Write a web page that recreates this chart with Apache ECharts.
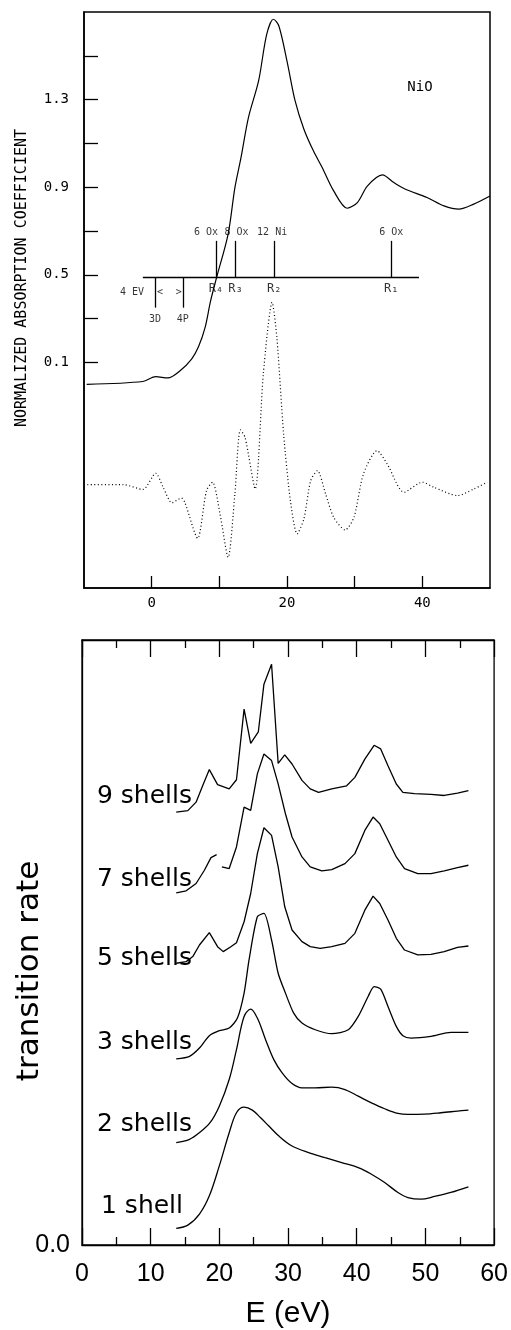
<!DOCTYPE html>
<html><head><meta charset="utf-8">
<script src="https://cdn.jsdelivr.net/npm/echarts@6/dist/echarts.min.js"></script>
<style>html,body{margin:0;padding:0;background:#fff}#c{width:511px;height:1330px}</style>
</head><body><div id="c"></div><script>
// ---------- Top panel (NiO absorption) ----------
const topSolidE = [-9.6,-1.3,0.6,2.4,4.2,5.9,6.9,7.9,8.7,9.6,11.3,12.3,13.2,14.3,15.8,17.0,18.0,18.8,20.0,21.2,22.5,23.9,25.2,26.9,28.9,30.4,31.9,34.1,35.8,37.5,40.7,43.2,45.4,47.6,50.0];
const topSolid  = [0.0,0.013,0.035,0.029,0.062,0.115,0.17,0.26,0.38,0.488,0.686,0.898,1.035,1.218,1.385,1.598,1.667,1.636,1.476,1.294,1.165,1.066,0.99,0.883,0.804,0.83,0.906,0.956,0.921,0.891,0.853,0.815,0.8,0.823,0.86];
const topDotE = [-9.5,-4.2,-1.3,0.6,1.7,3.0,4.4,4.9,6.8,8.1,9.0,10.1,11.3,12.3,13.1,13.8,15.3,16.5,17.8,18.5,19.5,20.5,21.5,22.5,23.5,24.5,25.7,26.9,28.6,29.9,31.3,33.3,34.8,37.3,40.0,41.7,45.2,47.6,49.6];
const topDot  = [-0.458,-0.458,-0.48,-0.406,-0.47,-0.541,-0.519,-0.539,-0.703,-0.485,-0.447,-0.592,-0.79,-0.5,-0.208,-0.242,-0.478,0.047,0.374,0.214,-0.227,-0.531,-0.683,-0.614,-0.44,-0.394,-0.5,-0.607,-0.665,-0.607,-0.409,-0.303,-0.363,-0.493,-0.447,-0.47,-0.508,-0.478,-0.447];
const topXTicks = [0,10,20,30,40];
const topXLabels = [0,20,40];
const topYTicks = [0.1,0.3,0.5,0.7,0.9,1.1,1.3,1.5];
const topYLabels = [0.1,0.5,0.9,1.3];
// shell annotations
const shellE = [9.5,12.4,18.1,35.4];
const shellNames = ['6 Ox','8 Ox','12 Ni','6 Ox'];
const shellR = ['R₄','R₃','R₂','R₁'];
const levelE = [0.5,4.6];
const levelNames = ['3D','4P'];
const arrowTexts = ['4 EV','<','>'];
const scaleStartE = -1.3, scaleEndE = 39.5, scaleLevel = 0.49;

// ---------- Bottom panel (transition rate) ----------
const e9 = [13.72,15.41,16.61,17.58,18.54,19.74,21.43,22.49,23.60,24.56,25.67,26.49,27.60,28.56,29.52,30.58,32.03,33.23,34.44,36.36,38.53,39.73,41.18,42.53,43.49,44.55,45.76,46.72,48.41,50.81,52.74,54.67,56.26];
const r9 = [7.155,7.18,7.32,7.594,7.858,7.61,7.54,7.69,8.858,8.29,8.48,9.27,9.60,7.96,8.10,7.95,7.68,7.54,7.48,7.54,7.59,7.73,8.03,8.26,8.20,7.92,7.62,7.48,7.46,7.45,7.43,7.47,7.51];
const e7 = [13.72,15.17,16.61,17.82,18.78,19.60,19.9,20.37,21.43,22.49,23.60,24.56,25.53,26.49,27.60,28.56,29.62,30.58,32.03,33.23,34.92,36.36,38.29,39.73,41.18,42.38,43.35,44.55,45.76,46.96,48.89,50.81,52.74,54.67,56.26];
const r7 = [5.82,5.854,5.975,6.194,6.403,6.452,null,6.249,6.222,6.579,7.238,7.183,7.787,8.116,8.007,7.622,7.128,6.744,6.414,6.249,6.183,6.205,6.304,6.469,6.853,7.073,6.963,6.689,6.414,6.222,6.139,6.139,6.183,6.238,6.277];
const e5 = [13.72,15.17,16.13,17.10,18.54,19.74,20.56,21.67,22.49,23.60,24.56,25.53,26.49,27.60,28.56,29.52,30.58,32.03,33.23,34.68,36.36,38.29,39.73,41.18,42.38,43.35,44.55,45.76,46.96,48.89,50.81,52.74,54.67,56.26];
const r5 = [4.657,4.684,4.767,4.959,5.162,4.931,4.849,4.931,4.997,5.343,5.81,6.469,6.897,6.771,6.249,5.59,5.206,5.014,4.931,4.904,4.931,4.986,5.151,5.535,5.766,5.645,5.371,5.069,4.876,4.794,4.805,4.849,4.92,4.942];
const e3 = [13.72,15.65,17.10,18.54,19.99,21.43,22.63,23.60,24.32,25.53,26.49,27.60,28.56,29.62,30.82,32.03,33.96,36.36,38.77,40.22,41.66,42.53,43.49,44.55,45.76,46.72,47.92,50.81,53.70,56.26];
const r3 = [3.075,3.119,3.256,3.46,3.542,3.586,3.751,4.163,4.712,5.425,5.48,5.041,4.492,4.163,3.833,3.668,3.558,3.493,3.558,3.778,4.108,4.272,4.228,3.943,3.613,3.46,3.421,3.449,3.515,3.515];
const e2 = [13.72,15.65,17.10,18.64,19.99,21.43,22.49,23.60,24.56,25.53,26.73,27.93,29.14,30.58,32.03,33.96,36.36,38.29,40.22,42.14,44.07,46.0,47.44,49.85,52.26,54.67,56.26];
const r2 = [1.691,1.746,1.856,2.021,2.295,2.735,3.229,3.778,3.899,3.751,3.394,3.064,2.845,2.669,2.598,2.598,2.608,2.57,2.46,2.35,2.252,2.175,2.158,2.164,2.186,2.213,2.23];
const e1 = [13.72,15.41,17.10,18.54,19.99,21.43,22.49,23.60,24.80,26.01,27.21,28.66,30.58,33.0,35.40,37.81,40.22,42.14,44.07,46.0,47.44,49.37,51.30,53.70,56.26];
const r1 = [0.275,0.329,0.511,0.813,1.307,1.856,2.186,2.279,2.23,2.103,1.966,1.801,1.636,1.527,1.444,1.362,1.28,1.17,1.032,0.868,0.785,0.758,0.802,0.868,0.961];
const shellLabels = ['9 shells','7 shells','5 shells','3 shells','2 shells','1 shell'];
const botXTicks = [0,10,20,30,40,50,60];

const pairs = (xs, ys) => xs.map((x, i) => [x, ys[i] === null ? '-' : ys[i]]);
const black = '#000';

const chart = echarts.init(document.getElementById('c'), null, {renderer: 'canvas'});

const monoFont = 'DejaVu Sans Mono';

const shellCurve = (xs, ys, smooth) => ({
  type: 'line', xAxisIndex: 1, yAxisIndex: 1, data: pairs(xs, ys), showSymbol: false, symbol: 'none',
  smooth: smooth, connectNulls: false, lineStyle: {color: black, width: 1.3}, silent: true
});

const vertSegs = (xs, y0, y1) => xs.map(x => [{coord: [x, y0]}, {coord: [x, y1]}]);
const shellNameOffsets = [[-10, 0], [1, 0], [-2, 0], [0, 0]];
const arrowOffsets = [[-23, 0], [5, 0], [-4, 0]];

const option = {
  animation: false,
  backgroundColor: '#fff',
  grid: [
    {left: 84, right: 21, top: 12, bottom: 742, show: true, borderColor: black, borderWidth: 1.5, backgroundColor: 'transparent'},
    {left: 82, right: 14, top: 640, bottom: 84, show: true, borderColor: black, borderWidth: 1.3, backgroundColor: 'transparent'}
  ],
  xAxis: [
    {type: 'value', gridIndex: 0, min: -10, max: 50, interval: 10,
     axisLine: {show: true, onZero: false, lineStyle: {color: black, width: 1.5}},
     axisTick: {show: true, inside: true, length: 12, customValues: topXTicks, lineStyle: {color: black, width: 1.3}},
     axisLabel: {customValues: topXLabels, color: black, fontFamily: monoFont, fontSize: 14, margin: 8},
     splitLine: {show: false}},
    {type: 'value', gridIndex: 1, min: 0, max: 60, interval: 10,
     name: 'E (eV)', nameLocation: 'middle', nameGap: 54,
     nameTextStyle: {color: black, fontFamily: 'Liberation Sans', fontSize: 30},
     axisLine: {show: true, onZero: false, lineStyle: {color: black, width: 1.3}},
     axisTick: {show: true, inside: true, length: 17, lineStyle: {color: black, width: 1.3}},
     minorTick: {show: true, splitNumber: 2, length: 8, lineStyle: {color: black, width: 1.3}},
     axisLabel: {customValues: botXTicks, color: black, fontFamily: 'Liberation Sans', fontSize: 25, margin: 17},
     splitLine: {show: false}, minorSplitLine: {show: false}},
    {type: 'value', gridIndex: 1, min: 0, max: 60, interval: 10, position: 'top',
     axisLine: {show: true, onZero: false, lineStyle: {color: black, width: 1.3}},
     axisTick: {show: true, inside: true, length: 17, lineStyle: {color: black, width: 1.3}},
     minorTick: {show: true, splitNumber: 2, length: 8, lineStyle: {color: black, width: 1.3}},
     axisLabel: {show: false}, splitLine: {show: false}, minorSplitLine: {show: false}}
  ],
  yAxis: [
    {type: 'value', gridIndex: 0, min: -0.93, max: 1.7,
     axisLine: {show: true, onZero: false, lineStyle: {color: black, width: 1.5}},
     axisTick: {show: true, inside: true, length: 14, customValues: topYTicks, lineStyle: {color: black, width: 1.3}},
     axisLabel: {customValues: topYLabels, formatter: v => v.toFixed(1), color: black, fontFamily: monoFont, fontSize: 14, margin: 15},
     splitLine: {show: false}},
    {type: 'value', gridIndex: 1, min: 0, max: 10,
     axisLine: {show: true, onZero: false, lineStyle: {color: black, width: 1.3}},
     axisTick: {show: false},
     axisLabel: {customValues: [0], formatter: v => v.toFixed(1), color: black, fontFamily: 'Liberation Sans', fontSize: 25, margin: 12},
     splitLine: {show: false}}
  ],
  series: [
    {type: 'line', xAxisIndex: 0, yAxisIndex: 0, data: pairs(topSolidE, topSolid), showSymbol: false, symbol: 'none',
     smooth: 0.3, lineStyle: {color: black, width: 1.2}, silent: true,
     markLine: {silent: true, symbol: 'none', animation: false,
       lineStyle: {color: black, width: 1.3, type: 'solid'}, label: {show: false},
       data: [[{coord: [scaleStartE, scaleLevel]}, {coord: [scaleEndE, scaleLevel]}]]
         .concat(vertSegs(shellE, scaleLevel, 0.655))
         .concat(vertSegs(levelE, scaleLevel, 0.35))}},
    {type: 'line', xAxisIndex: 0, yAxisIndex: 0, data: pairs(topDotE, topDot), showSymbol: false, symbol: 'none',
     smooth: 0.25, lineStyle: {color: black, width: 1.2, type: [1, 2.5]}, silent: true},
    // annotation texts (top panel)
    {type: 'scatter', xAxisIndex: 0, yAxisIndex: 0, symbolSize: 0, silent: true,
     data: shellE.map((x, i) => ({value: [x, 0.655], label: {offset: shellNameOffsets[i]}})),
     label: {show: true, position: 'top', distance: 3, color: black, fontFamily: monoFont, fontSize: 10,
       formatter: p => shellNames[p.dataIndex]}},
    {type: 'scatter', xAxisIndex: 0, yAxisIndex: 0, symbolSize: 0, silent: true,
     data: shellE.map(x => [x, scaleLevel]),
     label: {show: true, position: 'bottom', distance: 6, color: black, fontFamily: monoFont, fontSize: 12,
       formatter: p => shellR[p.dataIndex]}},
    {type: 'scatter', xAxisIndex: 0, yAxisIndex: 0, symbolSize: 0, silent: true,
     data: levelE.map(x => [x, 0.35]),
     label: {show: true, position: 'bottom', distance: 7, color: black, fontFamily: monoFont, fontSize: 10,
       formatter: p => levelNames[p.dataIndex]}},
    {type: 'scatter', xAxisIndex: 0, yAxisIndex: 0, symbolSize: 0, silent: true,
     data: [levelE[0], levelE[0], levelE[1]].map((x, i) => ({value: [x, 0.42], label: {offset: arrowOffsets[i]}})),
     label: {show: true, position: 'inside', color: black, fontFamily: monoFont, fontSize: 10,
       formatter: p => arrowTexts[p.dataIndex]}},
    // bottom panel curves
    shellCurve(e9, r9, false),
    shellCurve(e7, r7, false),
    shellCurve(e5, r5, false),
    shellCurve(e3, r3, 0.25),
    shellCurve(e2, r2, 0.35),
    shellCurve(e1, r1, 0.35)
  ],
  graphic: [
    {type: 'text', x: 22, y: 278, rotation: Math.PI / 2,
     style: {text: 'NORMALIZED ABSORPTION COEFFICIENT', fill: black, font: '15px "DejaVu Sans Mono"', textAlign: 'center', textVerticalAlign: 'middle'}},
    {type: 'text', x: 420, y: 87,
     style: {text: 'NiO', fill: black, font: '14px "DejaVu Sans Mono"', textAlign: 'center', textVerticalAlign: 'middle'}},
    {type: 'text', x: 30, y: 971, rotation: Math.PI / 2,
     style: {text: 'transition rate', fill: black, font: '31px "DejaVu Sans"', textAlign: 'center', textVerticalAlign: 'middle'}}
  ].concat(shellLabels.map((t, i) => ({
    type: 'text', x: i === 5 ? 183 : 192, y: [796, 879, 958, 1042, 1124, 1206][i],
    style: {text: t, fill: black, font: '25px "DejaVu Sans"', textAlign: 'right', textVerticalAlign: 'middle'}
  })))
};

chart.setOption(option);
</script></body></html>
